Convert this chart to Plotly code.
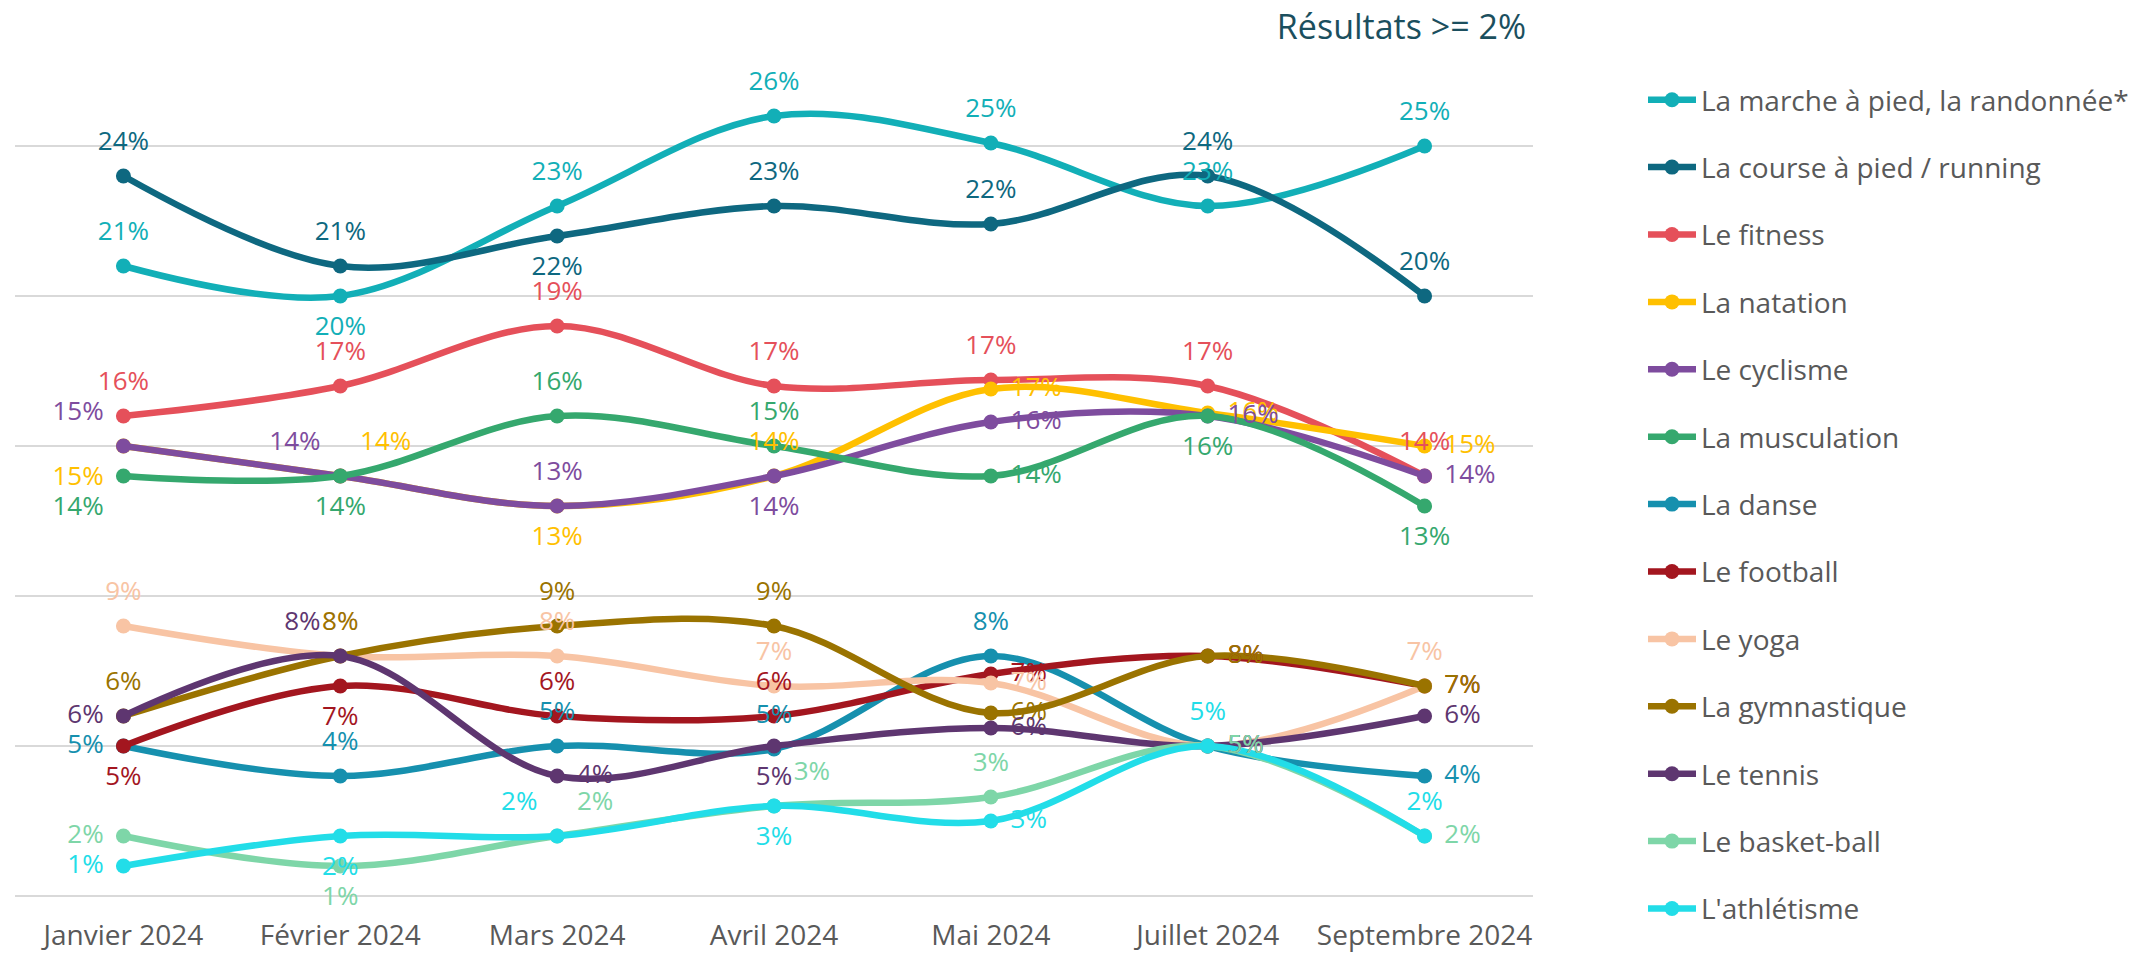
import math
import plotly.graph_objects as go

months = ["Janvier 2024", "Février 2024", "Mars 2024", "Avril 2024",
          "Mai 2024", "Juillet 2024", "Septembre 2024"]

series_names = [
    "La marche à pied, la randonnée*",
    "La course à pied / running",
    "Le fitness",
    "La natation",
    "Le cyclisme",
    "La musculation",
    "La danse",
    "Le football",
    "Le yoga",
    "La gymnastique",
    "Le tennis",
    "Le basket-ball",
    "L'athlétisme",
]

marche = [21, 20, 23, 26, 25.1, 23, 25]
course = [24, 21, 22, 23, 22.4, 24, 20]
fitness = [16, 17, 19, 17, 17.2, 17, 14]
natation = [15, 14, 13, 14, 16.9, 16.1, 15]
cyclisme = [15, 14, 13, 14, 15.8, 16, 14]
musculation = [14, 14, 16, 15, 14, 16, 13]
danse = [5, 4, 5, 4.9, 8, 5, 4]
football = [5, 7, 6, 6, 7.4, 8, 7]
yoga = [9, 8, 8, 7, 7.1, 5, 7]
gymnastique = [6, 8, 9, 9, 6.1, 8, 7]
tennis = [6, 8, 4, 5, 5.6, 5, 6]
basket = [2, 1, 2, 3, 3.3, 5, 2]
athletisme = [1, 2, 2, 3, 2.5, 5, 2]

values = [marche, course, fitness, natation, cyclisme, musculation, danse,
          football, yoga, gymnastique, tennis, basket, athletisme]

colors = ["#12AFB7", "#0E6880", "#E5505A", "#FFC000", "#7E4C9E", "#35A86E",
          "#1690AE", "#A3161F", "#F8C4A4", "#9A7300", "#5E3670", "#7ED6A8",
          "#22DDE8"]

TC, BC, ML, MR = "top center", "bottom center", "middle left", "middle right"
TL, TR, BL, BR = "top left", "top right", "bottom left", "bottom right"
text_positions = [
    [TC, BC, TC, TC, TC, TC, TC],
    [TC, TC, BC, TC, TC, TC, TC],
    [TC, TC, TC, TC, TC, TC, TC],
    [BL, TR, BC, TC, MR, MR, MR],
    [TL, TL, TC, BC, MR, MR, MR],
    [BL, BC, TC, TC, MR, BC, BC],
    [ML, TC, TC, TC, TC, MR, MR],
    [BC, BC, TC, TC, MR, MR, MR],
    [TC, TC, TC, TC, MR, MR, TC],
    [TC, TC, TC, TC, MR, MR, MR],
    [ML, TL, MR, BC, MR, MR, MR],
    [ML, BC, TR, TR, TC, MR, MR],
    [ML, BC, TL, BC, MR, TC, TC],
]

FONT = "Open Sans"

fig = go.Figure()

for name, vals, col in zip(series_names, values, colors):
    fig.add_trace(go.Scatter(
        x=months, y=vals, name=name, legendgroup=name,
        mode="lines+markers",
        line=dict(color=col, width=6.5, shape="spline", smoothing=1),
        marker=dict(color=col, size=15),
        hoverinfo="skip",
    ))

for name, vals, col, pos in zip(series_names, values, colors, text_positions):
    labels = [f"{int(math.floor(v + 0.5))}%" for v in vals]
    fig.add_trace(go.Scatter(
        x=months, y=vals, mode="markers+text", showlegend=False,
        text=labels, textposition=pos,
        textfont=dict(color=col, size=26, family=FONT),
        marker=dict(size=30, color="rgba(0,0,0,0)"),
        cliponaxis=False, hoverinfo="skip",
    ))

fig.update_layout(
    width=2155, height=953,
    margin=dict(l=15, r=622, t=56, b=48, autoexpand=False),
    paper_bgcolor="white", plot_bgcolor="white",
    font=dict(family=FONT, color="#595959"),
    title=dict(text="Résultats >= 2%", x=1526 / 2155, xanchor="right",
               xref="container", y=1 - 27 / 953, yanchor="middle",
               yref="container",
               font=dict(size=34, color="#1B4F5E", family=FONT)),
    showlegend=True,
    legend=dict(x=1643 / 2155, xanchor="left", xref="container",
                y=1 - 75 / 953, yanchor="top", yref="container",
                traceorder="grouped", tracegroupgap=28, maxheight=953,
                font=dict(size=28, color="#595959", family=FONT),
                itemwidth=48, bgcolor="rgba(0,0,0,0)"),
)

fig.update_xaxes(
    type="category", categoryorder="array", categoryarray=months,
    range=[-0.5, 6.5], showgrid=False, showline=False, zeroline=False,
    ticks="", tickfont=dict(size=28, color="#595959", family=FONT),
    ticklabelstandoff=11, automargin=False,
)
fig.update_yaxes(
    range=[-0.3, 28], dtick=5, tick0=0, showgrid=True, gridcolor="#D9D9D9",
    gridwidth=2, zeroline=False, showticklabels=False, showline=False,
    automargin=False,
)

fig.write_html(
    "out.html",
    config={"displayModeBar": False},
    post_script="document.body.style.margin='0';document.body.style.overflow='hidden';",
)
